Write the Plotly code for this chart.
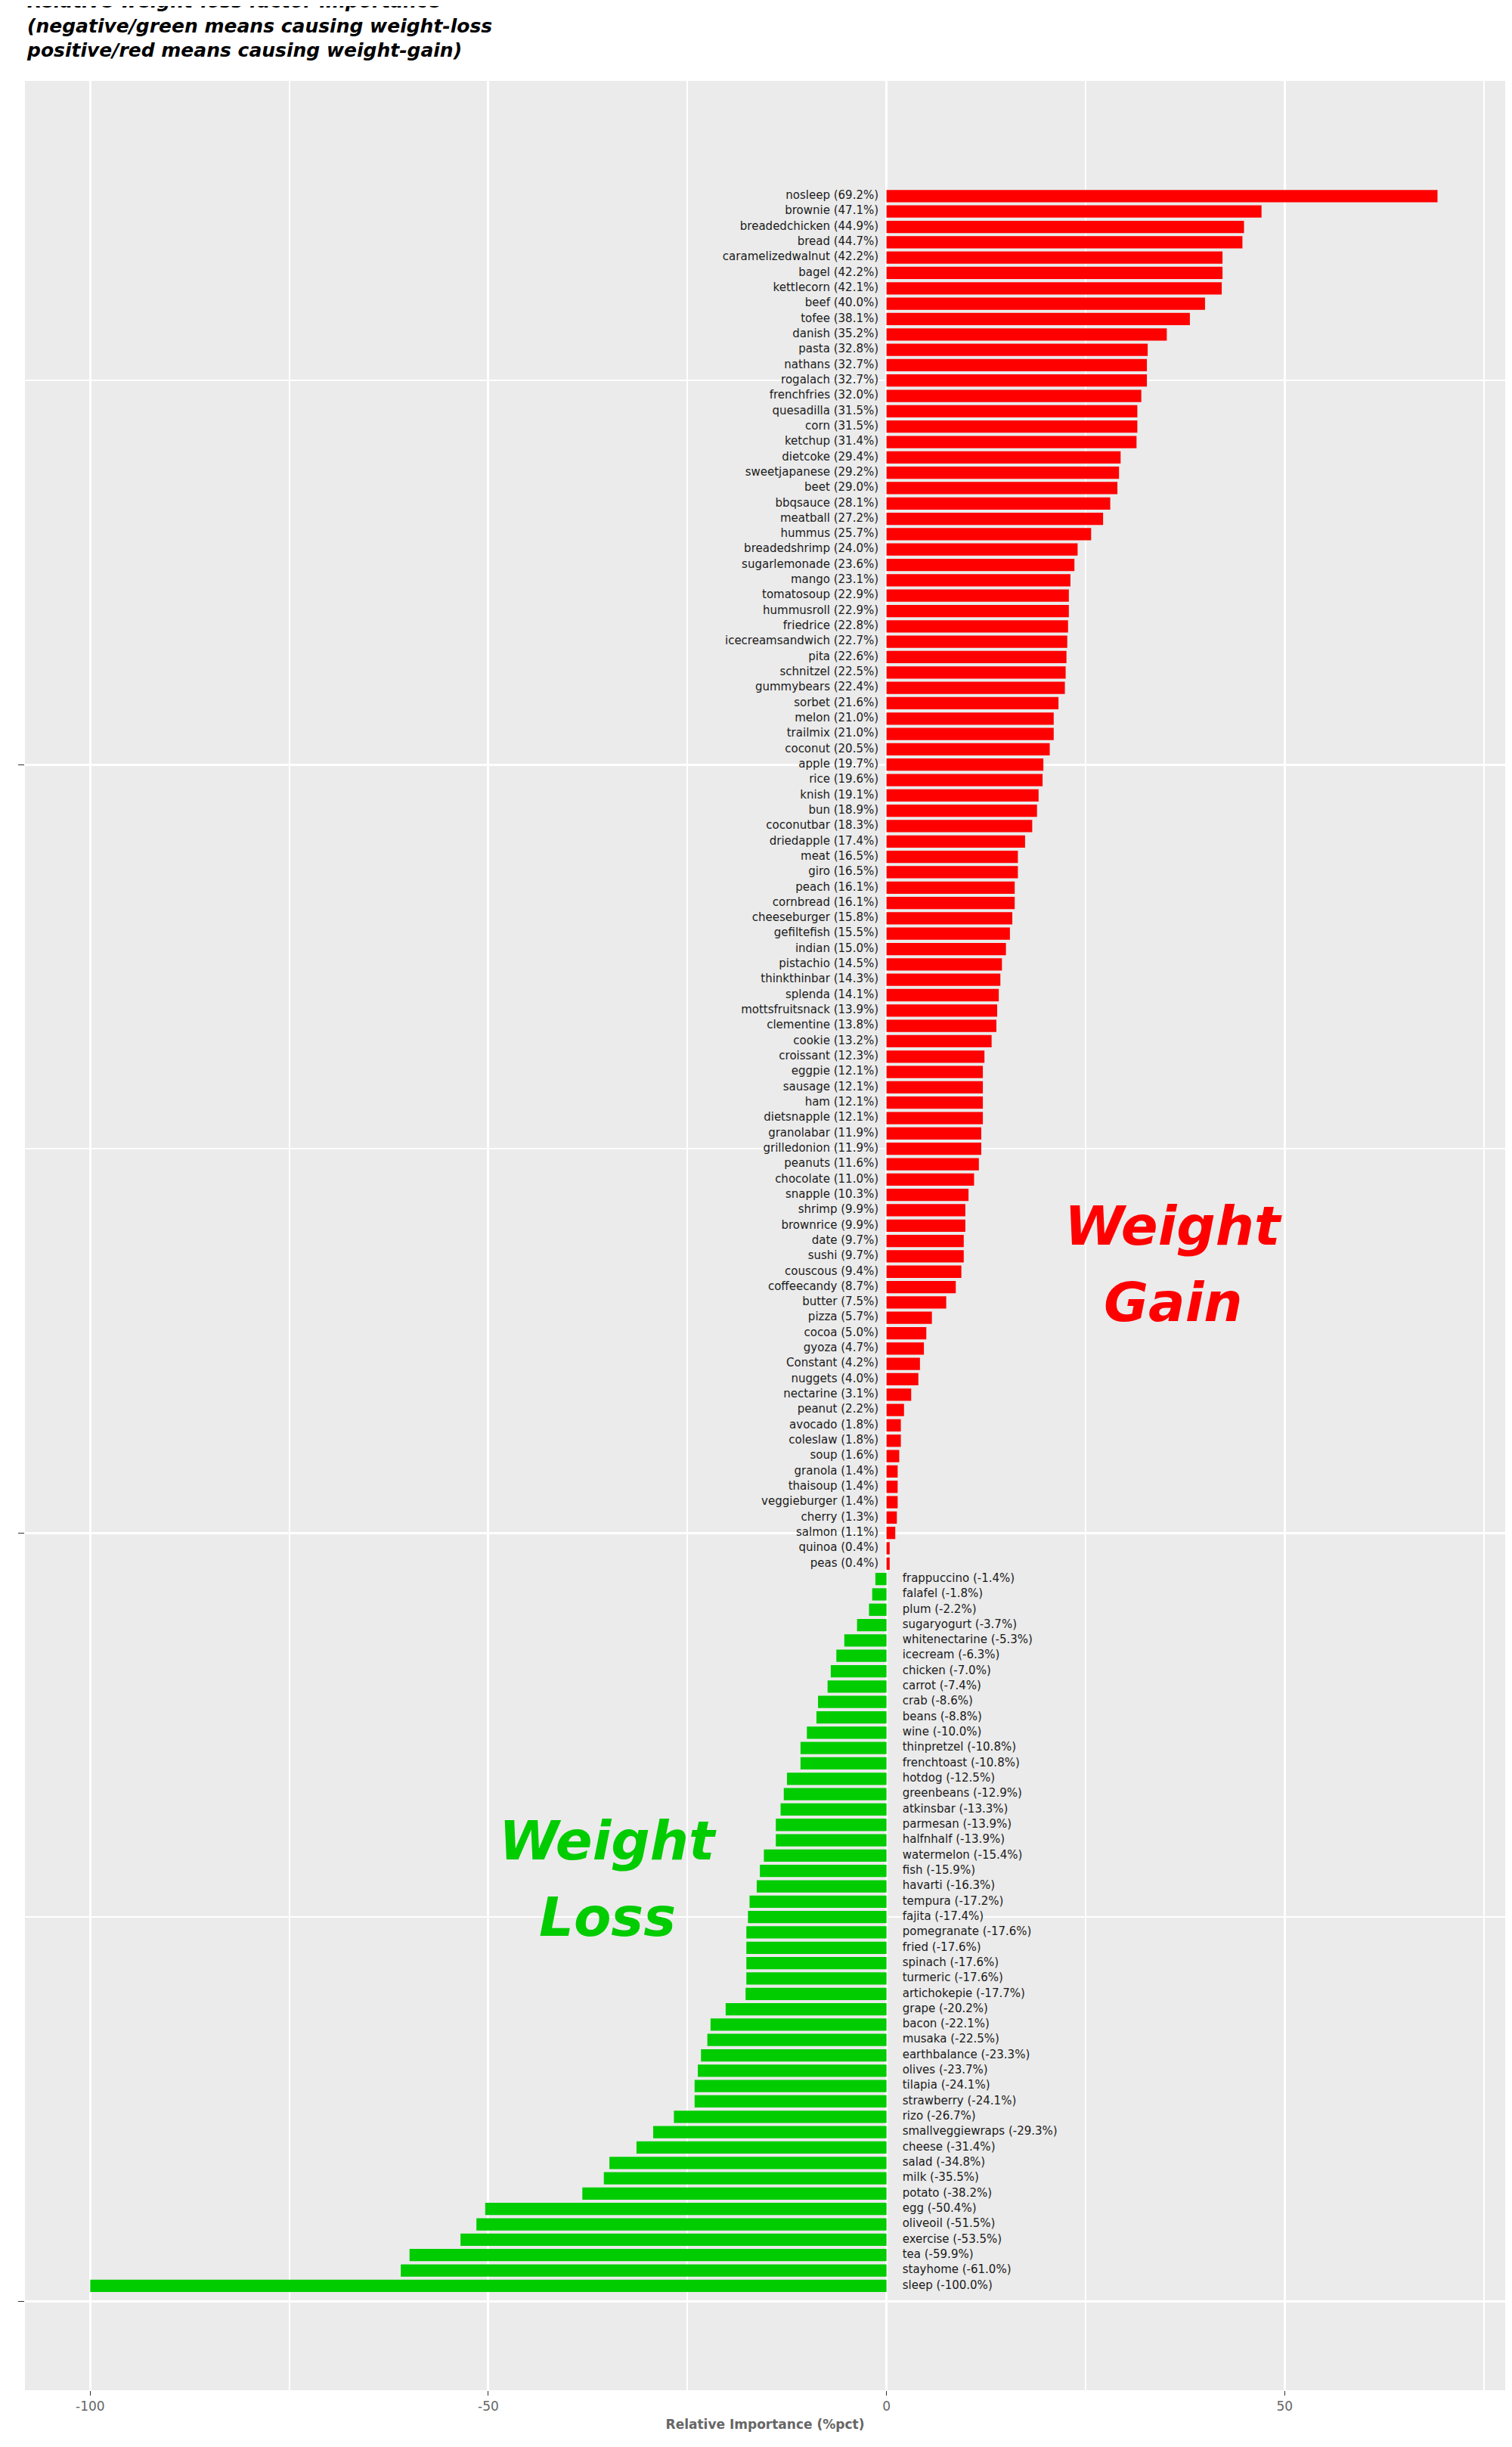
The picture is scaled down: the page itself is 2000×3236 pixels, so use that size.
import plotly.graph_objects as go

pos_names = ["nosleep", "brownie", "breadedchicken", "bread", "caramelizedwalnut", "bagel", "kettlecorn", "beef", "tofee", "danish",
             "pasta", "nathans", "rogalach", "frenchfries", "quesadilla", "corn", "ketchup", "dietcoke", "sweetjapanese", "beet",
             "bbqsauce", "meatball", "hummus", "breadedshrimp", "sugarlemonade", "mango", "tomatosoup", "hummusroll", "friedrice",
             "icecreamsandwich", "pita", "schnitzel", "gummybears", "sorbet", "melon", "trailmix", "coconut", "apple", "rice", "knish",
             "bun", "coconutbar", "driedapple", "meat", "giro", "peach", "cornbread", "cheeseburger", "gefiltefish", "indian",
             "pistachio", "thinkthinbar", "splenda", "mottsfruitsnack", "clementine", "cookie", "croissant", "eggpie", "sausage", "ham",
             "dietsnapple", "granolabar", "grilledonion", "peanuts", "chocolate", "snapple", "shrimp", "brownrice", "date", "sushi",
             "couscous", "coffeecandy", "butter", "pizza", "cocoa", "gyoza", "Constant", "nuggets", "nectarine", "peanut",
             "avocado", "coleslaw", "soup", "granola", "thaisoup", "veggieburger", "cherry", "salmon", "quinoa", "peas"]
pos_vals = [69.2, 47.1, 44.9, 44.7, 42.2, 42.2, 42.1, 40.0, 38.1, 35.2,
            32.8, 32.7, 32.7, 32.0, 31.5, 31.5, 31.4, 29.4, 29.2, 29.0,
            28.1, 27.2, 25.7, 24.0, 23.6, 23.1, 22.9, 22.9, 22.8,
            22.7, 22.6, 22.5, 22.4, 21.6, 21.0, 21.0, 20.5, 19.7, 19.6, 19.1,
            18.9, 18.3, 17.4, 16.5, 16.5, 16.1, 16.1, 15.8, 15.5, 15.0,
            14.5, 14.3, 14.1, 13.9, 13.8, 13.2, 12.3, 12.1, 12.1, 12.1,
            12.1, 11.9, 11.9, 11.6, 11.0, 10.3, 9.9, 9.9, 9.7, 9.7,
            9.4, 8.7, 7.5, 5.7, 5.0, 4.7, 4.2, 4.0, 3.1, 2.2,
            1.8, 1.8, 1.6, 1.4, 1.4, 1.4, 1.3, 1.1, 0.4, 0.4]
neg_names = ["frappuccino", "falafel", "plum", "sugaryogurt", "whitenectarine", "icecream", "chicken", "carrot", "crab", "beans",
             "wine", "thinpretzel", "frenchtoast", "hotdog", "greenbeans", "atkinsbar", "parmesan", "halfnhalf", "watermelon", "fish",
             "havarti", "tempura", "fajita", "pomegranate", "fried", "spinach", "turmeric", "artichokepie", "grape", "bacon",
             "musaka", "earthbalance", "olives", "tilapia", "strawberry", "rizo", "smallveggiewraps", "cheese", "salad", "milk",
             "potato", "egg", "oliveoil", "exercise", "tea", "stayhome", "sleep"]
neg_vals = [-1.4, -1.8, -2.2, -3.7, -5.3, -6.3, -7.0, -7.4, -8.6, -8.8,
            -10.0, -10.8, -10.8, -12.5, -12.9, -13.3, -13.9, -13.9, -15.4, -15.9,
            -16.3, -17.2, -17.4, -17.6, -17.6, -17.6, -17.6, -17.7, -20.2, -22.1,
            -22.5, -23.3, -23.7, -24.1, -24.1, -26.7, -29.3, -31.4, -34.8, -35.5,
            -38.2, -50.4, -51.5, -53.5, -59.9, -61.0, -100.0]

n = len(pos_names) + len(neg_names)
pos_y = [n - i for i in range(len(pos_names))]
neg_y = [len(neg_names) - i for i in range(len(neg_names))]

RED = "#FF0000"
GREEN = "#00CC00"
lab_font = dict(family="DejaVu Sans", size=15, color="#1a1a1a")

fig = go.Figure()
fig.add_trace(go.Bar(x=pos_vals, y=pos_y, orientation="h", marker_color=RED, marker_line_width=0, width=0.8))
fig.add_trace(go.Bar(x=neg_vals, y=neg_y, orientation="h", marker_color=GREEN, marker_line_width=0, width=0.8))
fig.add_trace(go.Scatter(x=[-1] * len(pos_y), y=pos_y, mode="text", textposition="middle left",
                         text=[f"{a} ({v:.1f}%)" for a, v in zip(pos_names, pos_vals)], textfont=lab_font))
fig.add_trace(go.Scatter(x=[2] * len(neg_y), y=neg_y, mode="text", textposition="middle right",
                         text=[f"{a} ({v:.1f}%)" for a, v in zip(neg_names, neg_vals)], textfont=lab_font))

big = dict(family="DejaVu Sans", size=72)
for txt, x, y, c in [("<b><i>Weight</i></b>", 36, 70, RED), ("<b><i>Gain</i></b>", 36, 65, RED),
                     ("<b><i>Weight</i></b>", -35, 30, GREEN), ("<b><i>Loss</i></b>", -35, 25, GREEN)]:
    fig.add_annotation(x=x, y=y, text=txt, showarrow=False, font=dict(color=c, **big))

fig.add_annotation(
    xref="paper", yref="paper", x=0, y=1.008, xanchor="left", yanchor="bottom", align="left", showarrow=False,
    text="<b><i>Relative weight-loss factor importance<br>(negative/green means causing weight-loss<br>"
         "positive/red means causing weight-gain)</i></b>",
    font=dict(family="DejaVu Sans", size=25, color="black"))

fig.update_layout(
    width=2000, height=3236, showlegend=False, barmode="overlay",
    plot_bgcolor="#EBEBEB", paper_bgcolor="white",
    margin=dict(l=25, r=17, t=99, b=83),
    xaxis=dict(range=[-108.2, 77.7], tickvals=[-100, -50, 0, 50], ticktext=["-100", "-50", "0", "50"],
               gridcolor="white", gridwidth=3, zeroline=False, ticks="outside", ticklen=6, tickcolor="#333",
               tickfont=dict(family="DejaVu Sans", size=17, color="#666"),
               minor=dict(tickvals=[-75, -25, 25, 75], gridcolor="white", gridwidth=1.5),
               title=dict(text="<b>Relative Importance (%pct)</b>", font=dict(family="DejaVu Sans", size=17, color="#666"), standoff=8)),
    yaxis=dict(range=[-5.8, 144.5], tickvals=[0, 50, 100], ticktext=["", "", ""], gridcolor="white", gridwidth=3,
               zeroline=False, ticks="outside", ticklen=8, tickcolor="#333",
               minor=dict(tickvals=[25, 75, 125], gridcolor="white", gridwidth=1.5)),
)
fig.write_html("out.html")
